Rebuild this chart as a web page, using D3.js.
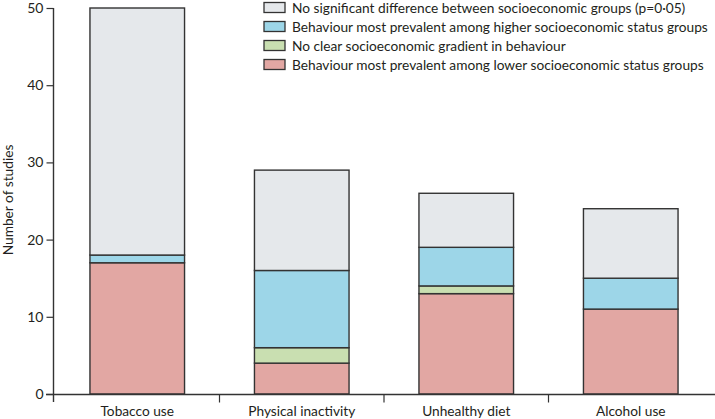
<!DOCTYPE html>
<html><head><meta charset="utf-8">
<script src="https://cdn.jsdelivr.net/npm/d3@7/dist/d3.min.js"></script>
<style>body{margin:0;background:#fff}svg{display:block}text{font-family:Lato,"Open Sans",sans-serif;fill:#231f20}</style>
</head><body><svg id="c" width="715" height="419"></svg>
<script>
const categories = ["Tobacco use","Physical inactivity","Unhealthy diet","Alcohol use"];
const seriesNames = [
  "Behaviour most prevalent among lower socioeconomic status groups",
  "No clear socioeconomic gradient in behaviour",
  "Behaviour most prevalent among higher socioeconomic status groups",
  "No significant difference between socioeconomic groups (p=0·05)"
];
const lowerSES = [17, 4, 13, 11];
const noGradient = [0, 2, 1, 0];
const higherSES = [1, 10, 5, 4];
const noDifference = [32, 13, 7, 9];
const yTicks = [0,10,20,30,40,50];
const colors = ["#e2a7a3","#c9dfb1","#9dd6e8","#e5e8eb"];

const svg = d3.select("#c");
const x = d3.scaleBand().domain(categories).range([55,713]).paddingInner(0.425).paddingOuter(0.2125);
const y = d3.scaleLinear().domain([0,50]).range([394,8]);

const table = categories.map((c,i)=>({cat:c, s0:lowerSES[i], s1:noGradient[i], s2:higherSES[i], s3:noDifference[i]}));
const stack = d3.stack().keys(["s0","s1","s2","s3"])(table);

stack.forEach((layer,li)=>{
  svg.append("g").selectAll("rect").data(layer.filter(d=>d[1]>d[0])).join("rect")
    .attr("x",d=>x(d.data.cat)).attr("width",x.bandwidth())
    .attr("y",d=>y(d[1])).attr("height",d=>y(d[0])-y(d[1]))
    .attr("fill",colors[li]).attr("stroke","#333").attr("stroke-width",1.4);
});

// legend (measure font size to fit)
const legOrder = [3,2,1,0];
const lg = svg.append("g");
const probe = lg.append("text").style("font-size","14px").text(seriesNames[2]);
const w = probe.node().getComputedTextLength();
probe.remove();
const fs = Math.min(14, 14*416/w);

legOrder.forEach((si,i)=>{
  const yy = 2.5 + i*19;
  lg.append("rect").attr("x",264).attr("y",yy).attr("width",21).attr("height",10)
    .attr("fill",colors[si]).attr("stroke","#333").attr("stroke-width",1.3);
  lg.append("text").attr("x",292).attr("y",yy+10.5).style("font-size",fs+"px").text(seriesNames[si]);
});

// y axis
const ya = svg.append("g").attr("transform","translate(53.5,0)")
  .call(d3.axisLeft(y).tickValues(yTicks).tickSize(7).tickPadding(3));
ya.select(".domain").attr("stroke","#333").attr("stroke-width",1.4).attr("d","M0,"+y(50)+"V"+(y(0)+8));
ya.selectAll(".tick line").attr("stroke","#333").attr("stroke-width",1.2);
ya.selectAll(".tick text").style("font-size","14px").attr("fill","#231f20");

// x axis
const xa = svg.append("g").attr("transform","translate(0,394.5)");
xa.append("line").attr("x1",46).attr("x2",715).attr("stroke","#333").attr("stroke-width",1.4);
const step = x.step();
const bounds = categories.slice(1).map(c=>x(c)-x.paddingInner()*step/2);
xa.selectAll("line.t").data(bounds).join("line").attr("class","t")
  .attr("x1",d=>d).attr("x2",d=>d).attr("y1",0).attr("y2",8).attr("stroke","#333").attr("stroke-width",1.2);
xa.selectAll("text").data(categories).join("text")
  .attr("x",d=>x(d)+x.bandwidth()/2).attr("y",21.5).attr("text-anchor","middle")
  .style("font-size",fs+"px").text(d=>d);

// y label
svg.append("text").attr("transform","translate(13,200) rotate(-90)").attr("text-anchor","middle")
  .style("font-size",fs+"px").text("Number of studies");
</script></body></html>
